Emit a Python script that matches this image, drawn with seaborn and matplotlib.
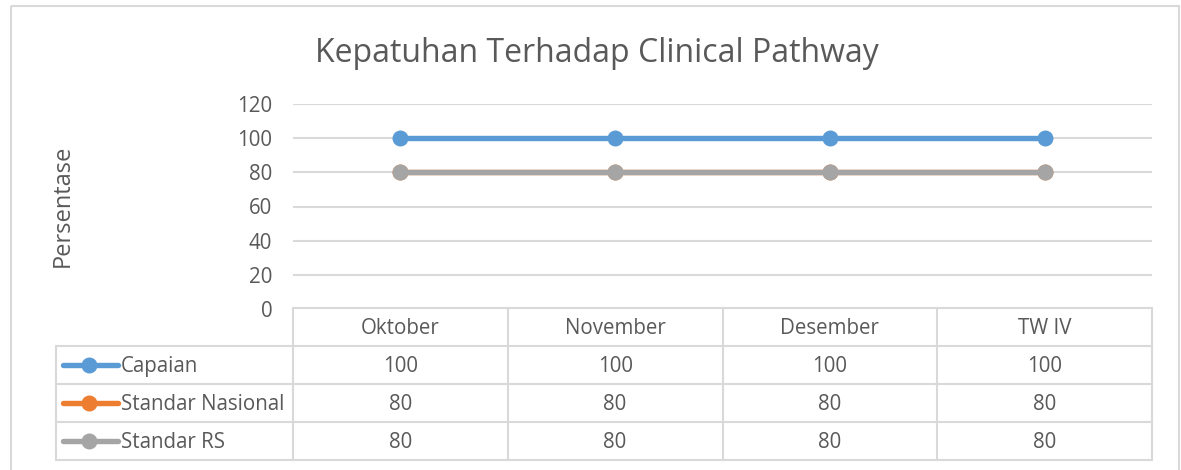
import pandas as pd
import matplotlib
matplotlib.use("Agg")
import matplotlib.pyplot as plt
import seaborn as sns

# data
categories = ["Oktober", "November", "Desember", "TW IV"]
capaian = [100, 100, 100, 100]
standar_nasional = [80, 80, 80, 80]
standar_rs = [80, 80, 80, 80]
series_names = ["Capaian", "Standar Nasional", "Standar RS"]
series_values = [capaian, standar_nasional, standar_rs]
colors = ["#5B9BD5", "#ED7D31", "#A5A5A5"]
yticks = [0, 20, 40, 60, 80, 100, 120]

sns.set_style("white")
plt.rcParams["font.family"] = ["Open Sans", "DejaVu Sans"]
txt = "#595959"
grid = "#D9D9D9"
fs = 14.8

W, H = 1181, 470
fig = plt.figure(figsize=(W / 100, H / 100), dpi=100)

# overlay axes in pixel units for frame + data table
bg = fig.add_axes([0, 0, 1, 1])
bg.set_xlim(0, W)
bg.set_ylim(H, 0)
bg.axis("off")
bg.add_patch(plt.Rectangle((11, 6), 1168, 480, fill=False, edgecolor=grid, lw=1.5))

# plot area
x0, x1, ytop, ybot = 293, 1152, 104, 309
ax = fig.add_axes([x0 / W, 1 - ybot / H, (x1 - x0) / W, (ybot - ytop) / H])
ax.patch.set_alpha(0)

xs = list(range(len(categories)))
for name, vals, c in zip(series_names, series_values, colors):
    df = pd.DataFrame({"x": xs, "y": vals})
    sns.lineplot(data=df, x="x", y="y", ax=ax, color=c, lw=3.9, marker="o",
                 markersize=11.5, markeredgewidth=0, label=name, legend=False)

ax.set_xlim(-0.5, len(categories) - 0.5)
ax.set_ylim(0, 120)
ax.set_yticks(yticks)
ax.set_yticklabels([str(v) for v in yticks], color=txt, fontsize=fs)
ax.set_xticks([])
ax.set_xlabel("")
ax.set_ylabel("")
ax.tick_params(axis="y", length=0, pad=15)
for y in yticks[1:]:
    ax.axhline(y, color=grid, lw=1.5, zorder=0)
for s in ax.spines.values():
    s.set_visible(False)

fig.text(597 / W, 1 - 54 / H, "Kepatuhan Terhadap Clinical Pathway",
         ha="center", va="center", fontsize=23, color=txt)
fig.text(63 / W, 1 - 206 / H, "Persentase", rotation=90, ha="center",
         va="center", fontsize=17, color=txt)

# data table
col_w = (x1 - x0) / len(categories)
tbl_left = 56
row_h = 38
hdr_top = 308
rows_top = hdr_top + row_h
n_rows = len(series_names)
tbl_bot = rows_top + n_rows * row_h
lw = 1.5
bg.plot([x0, x1], [hdr_top, hdr_top], color=grid, lw=lw)
for i in range(len(categories) + 1):
    xv = x0 + i * col_w
    bg.plot([xv, xv], [hdr_top, tbl_bot], color=grid, lw=lw)
bg.plot([tbl_left, tbl_left], [rows_top, tbl_bot], color=grid, lw=lw)
for r in range(n_rows + 1):
    yv = rows_top + r * row_h
    bg.plot([tbl_left, x1], [yv, yv], color=grid, lw=lw)

for i, cat in enumerate(categories):
    bg.text(x0 + (i + 0.5) * col_w, hdr_top + row_h / 2 + 2, cat,
            ha="center", va="center", fontsize=fs, color=txt)

for r, (name, vals, c) in enumerate(zip(series_names, series_values, colors)):
    yc = rows_top + (r + 0.5) * row_h
    bg.plot([63, 118], [yc, yc], color=c, lw=3.9, solid_capstyle="round")
    bg.plot([89], [yc], marker="o", color=c, markersize=11.5, markeredgewidth=0)
    bg.text(121, yc + 1.5, name, ha="left", va="center", fontsize=fs, color=txt)
    for i, v in enumerate(vals):
        bg.text(x0 + (i + 0.5) * col_w, yc + 1.5, str(v), ha="center",
                va="center", fontsize=fs, color=txt)

fig.savefig("out.png", dpi=100)
